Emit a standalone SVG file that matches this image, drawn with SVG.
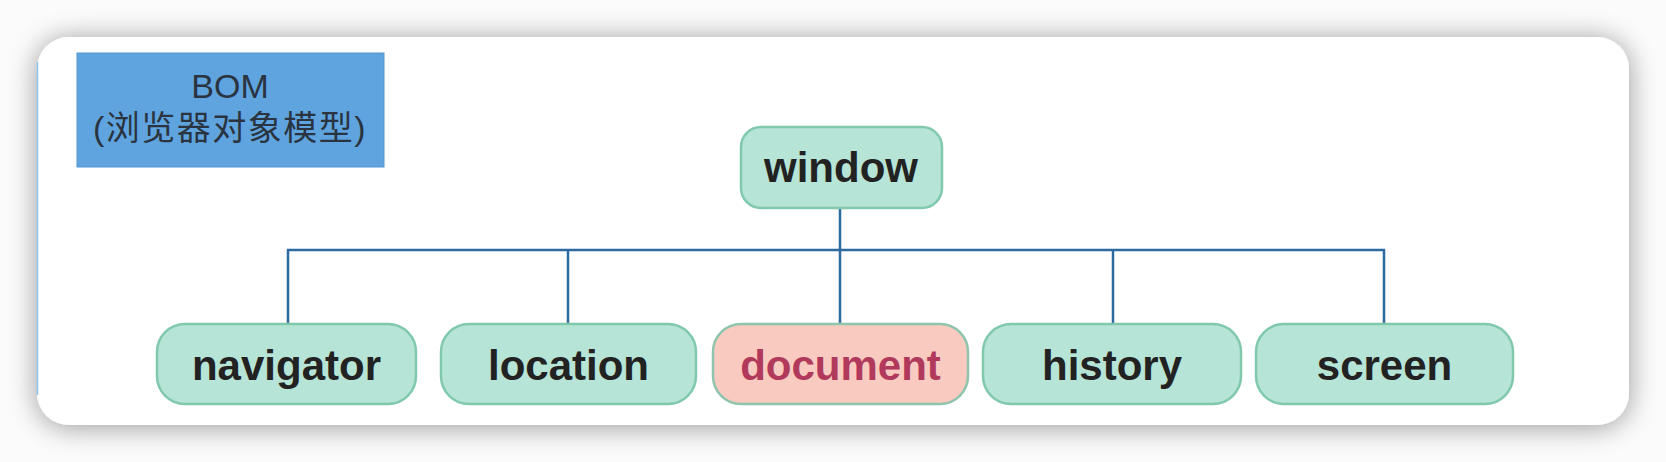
<svg xmlns="http://www.w3.org/2000/svg" width="1666" height="462" viewBox="0 0 1666 462">
<defs>
<filter id="sh" x="-10%" y="-25%" width="120%" height="150%">
<feGaussianBlur in="SourceAlpha" stdDeviation="14"/>
<feComponentTransfer><feFuncA type="linear" slope="0.4"/></feComponentTransfer>
<feOffset dx="0" dy="2"/>
<feMerge><feMergeNode/><feMergeNode in="SourceGraphic"/></feMerge>
</filter>
</defs>
<style>
.node rect{fill:#b6e4d6;stroke:#80c9ad;stroke-width:2.5}
.node text{font-family:"Liberation Sans",Arial,sans-serif;font-weight:bold;font-size:42px;fill:#222;text-anchor:middle}
#document rect{fill:#f9cbc0;stroke:#8fc4ad}
#document text{fill:#b0395c}
.conn{stroke:#2d6aa0;stroke-width:2.5;fill:none}
.bom{font-family:"Liberation Sans",Arial,"Noto Sans CJK SC",sans-serif;font-size:34px;fill:#2a3440;text-anchor:middle}
</style>
<rect width="1666" height="462" fill="#fbfbfb"/>
<rect x="37" y="37" width="1592" height="388" rx="32" fill="#ffffff" filter="url(#sh)"/>
<line x1="37.5" y1="62" x2="37.5" y2="395" stroke="#8ec5f0" stroke-width="1.5"/>
<g id="bom">
<rect x="77" y="53" width="307" height="114" fill="#5fa4df" stroke="#5797cf" stroke-width="1"/>
<text class="bom" x="230" y="98">BOM</text>
<text class="bom" x="230" y="140" letter-spacing="1.5">(浏览器对象模型)</text>
</g>
<g id="connectors">
<line class="conn" x1="840" y1="208" x2="840" y2="324"/>
<polyline class="conn" points="288,324 288,250 1384,250 1384,324"/>
<line class="conn" x1="568" y1="250" x2="568" y2="324"/>
<line class="conn" x1="1113" y1="250" x2="1113" y2="324"/>
</g>
<g id="window" class="node">
<rect x="741" y="127" width="201" height="81" rx="20"/>
<text x="841" y="182">window</text>
</g>
<g id="navigator" class="node">
<rect x="157" y="324" width="259" height="80" rx="28"/>
<text x="286.5" y="380">navigator</text>
</g>
<g id="location" class="node">
<rect x="441" y="324" width="255" height="80" rx="28"/>
<text x="568.5" y="380">location</text>
</g>
<g id="document" class="node">
<rect x="713" y="324" width="255" height="80" rx="28"/>
<text x="840.5" y="380">document</text>
</g>
<g id="history" class="node">
<rect x="983" y="324" width="258" height="80" rx="28"/>
<text x="1112" y="380">history</text>
</g>
<g id="screen" class="node">
<rect x="1256" y="324" width="257" height="80" rx="28"/>
<text x="1384.5" y="380">screen</text>
</g>
</svg>
